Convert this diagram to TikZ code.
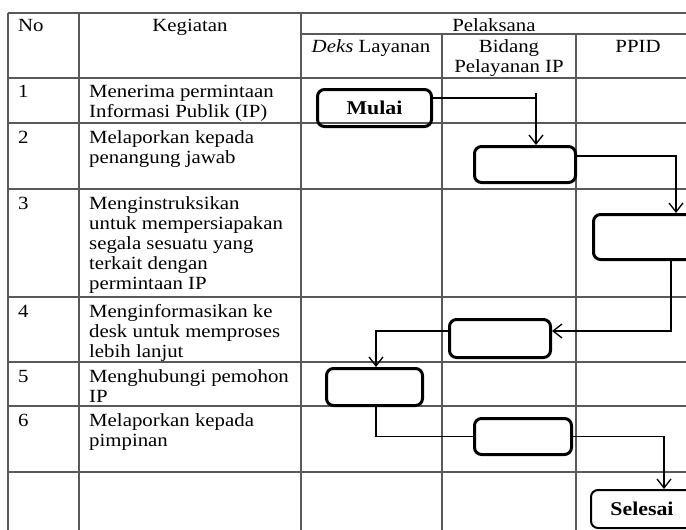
\documentclass[tikz,border=0pt]{standalone}
\usepackage{fontspec}
\setmainfont{Liberation Serif}[FakeStretch=1.12]
\usetikzlibrary{arrows.meta}
\begin{document}
\begin{tikzpicture}[x=1pt,y=-1pt,
  grid/.style={draw=black!65, line width=1.2pt},
  txt/.style={inner sep=0pt, font=\fontsize{18.6}{20}\selectfont, align=left, anchor=base west},
  ctxt/.style={inner sep=0pt, font=\fontsize{18.6}{20}\selectfont, align=center, anchor=base},
  flowbox/.style={draw=black, line width=3pt, rounded corners=7pt, inner sep=0pt,
    font=\fontsize{19.5}{20}\selectfont\bfseries},
  conn/.style={draw=black, line width=1.3pt},
  arr/.style={conn, -{Straight Barb[length=9pt,width=14pt,line width=1.3pt]}}]
\useasboundingbox (0,0) rectangle (686,530);
\clip (0,0) rectangle (686,530);
\fill[white] (0,0) rectangle (686,530);
% table grid
\draw[grid] (8,13) -- (720,13);
\draw[grid] (301,34) -- (720,34);
\foreach \y in {78,123,189,297,362,406,472} \draw[grid] (8,\y) -- (720,\y);
\foreach \x in {8,79,301} \draw[grid] (\x,13) -- (\x,540);
\foreach \x in {442,576} \draw[grid] (\x,34) -- (\x,540);
% header (base anchor = baseline of the last line)
\node[txt] (hno) at (18,31) {No};
\node[ctxt] (hkeg) at (190,31) {Kegiatan};
\node[ctxt] (hpel) at (494,31) {Pelaksana};
\node[ctxt] (hdeks) at (371,52) {\textit{Deks} Layanan};
\node[ctxt] (hbid) at (509,72) {Bidang\\Pelayanan IP};
\node[ctxt] (hppid) at (638,52) {PPID};
% rows
\node[txt] (n1) at (18,97) {1};
\node[txt] (k1) at (89,117) {Menerima permintaan\\Informasi Publik (IP)};
\node[txt] (n2) at (18,143) {2};
\node[txt] (k2) at (89,163) {Melaporkan kepada\\penangung jawab};
\node[txt] (n3) at (18,209) {3};
\node[txt] (k3) at (89,289) {Menginstruksikan\\untuk mempersiapakan\\segala sesuatu yang\\terkait dengan\\permintaan IP};
\node[txt] (n4) at (18,317) {4};
\node[txt] (k4) at (89,357) {Menginformasikan ke\\desk untuk memproses\\lebih lanjut};
\node[txt] (n5) at (18,382) {5};
\node[txt] (k5) at (89,402) {Menghubungi pemohon\\IP};
\node[txt] (n6) at (18,426) {6};
\node[txt] (k6) at (89,446) {Melaporkan kepada\\pimpinan};
% flow boxes
\node[flowbox, minimum width=114pt, minimum height=37pt, text depth=-3pt] (mulai) at (374.5,108) {Mulai};
\node[flowbox, minimum width=101pt, minimum height=36pt] (b2) at (525,164.5) {};
\node[flowbox, minimum width=105pt, minimum height=45pt] (b3) at (646,237) {};
\node[flowbox, minimum width=101pt, minimum height=38pt] (b4) at (500,338.5) {};
\node[flowbox, minimum width=96pt, minimum height=37pt] (b5) at (374.5,387) {};
\node[flowbox, minimum width=97pt, minimum height=36pt] (b6) at (523,436.5) {};
\node[flowbox, line width=2pt, minimum width=102pt, minimum height=38pt] (sel) at (642,509) {Selesai};
% connectors
\coordinate (m1) at ([yshift=10pt]mulai.east);
\coordinate (t1) at (536,93);
\draw[conn] (m1) -- (t1 |- m1);
\draw[arr] (t1) -- (t1 |- b2.north);
\draw[arr] ([yshift=8.5pt]b2.east) -| ([xshift=30pt]b3.north);
\draw[arr] ([xshift=25pt]b3.south) |- ([yshift=7.5pt]b4.east);
\draw[arr] ([yshift=7.5pt]b4.west) -| ([xshift=1.5pt]b5.north);
\draw[conn] ([xshift=1.5pt]b5.south) |- (b6.west);
\draw[arr] (b6.east) -| ([xshift=22pt]sel.north);
\end{tikzpicture}
\end{document}
